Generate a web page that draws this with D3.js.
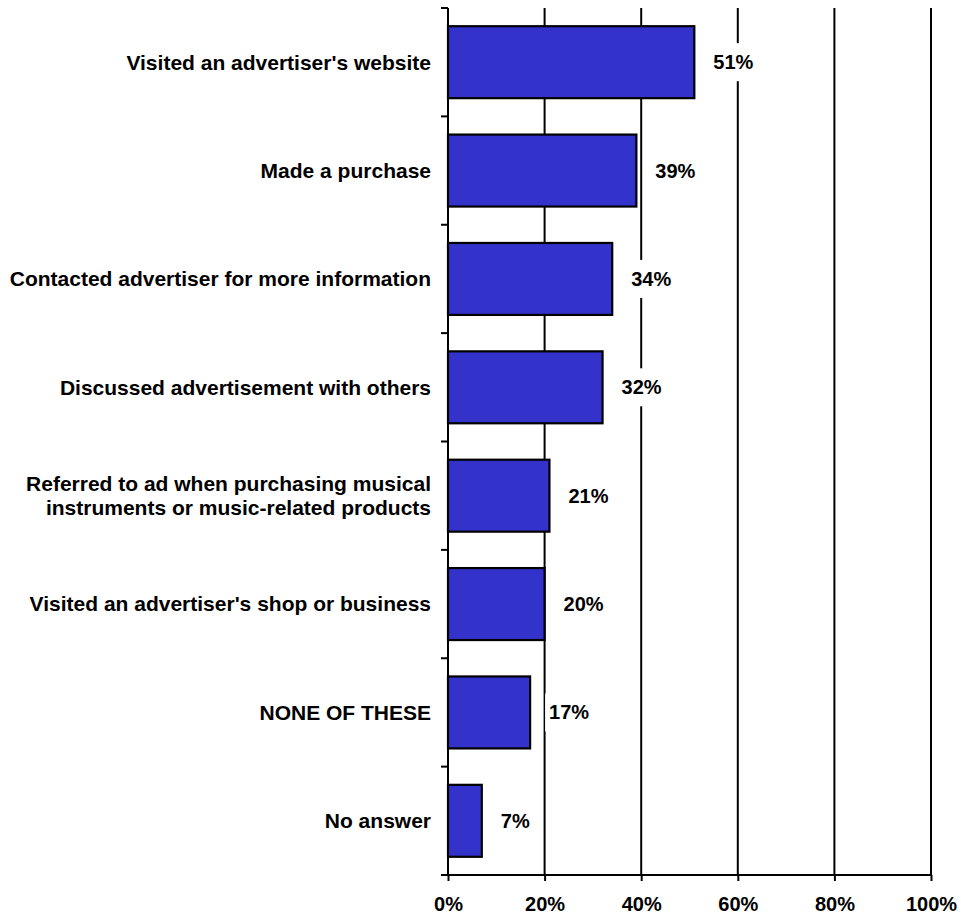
<!DOCTYPE html>
<html>
<head>
<meta charset="utf-8">
<script src="https://cdn.jsdelivr.net/npm/d3@7"></script>
<style>
  html, body { margin: 0; padding: 0; background: #fff; }
  svg { display: block; }
  text { font-family: "Liberation Sans", Arial, Helvetica, sans-serif; font-weight: bold; fill: #000; }
</style>
</head>
<body>
<svg id="chart" width="961" height="918"></svg>
<script>
// Survey responses: actions taken after seeing an advertisement
const categories = [
  "Visited an advertiser's website",
  "Made a purchase",
  "Contacted advertiser for more information",
  "Discussed advertisement with others",
  "Referred to ad when purchasing musical\ninstruments or music-related products",
  "Visited an advertiser's shop or business",
  "NONE OF THESE",
  "No answer"
];
const values = [51, 39, 34, 32, 21, 20, 17, 7];
const xTicks = [0, 20, 40, 60, 80, 100];

const svg = d3.select("#chart");
const margin = { top: 8, right: 30, bottom: 43, left: 448 };
const width = 961 - margin.left - margin.right;
const height = 918 - margin.top - margin.bottom;

const g = svg.append("g").attr("transform", `translate(${margin.left},${margin.top})`);

const x = d3.scaleLinear().domain([0, 100]).range([0, width]);
const y = d3.scaleBand().domain(categories).range([0, height]).paddingInner(0.336).paddingOuter(0.168);

// Vertical gridlines
g.append("g").selectAll("line")
  .data(xTicks.filter(t => t > 0))
  .join("line")
  .attr("x1", d => x(d)).attr("x2", d => x(d))
  .attr("y1", 0).attr("y2", height)
  .attr("stroke", "#000").attr("stroke-width", 2);

// Bars
g.append("g").selectAll("rect")
  .data(categories)
  .join("rect")
  .attr("x", 0)
  .attr("y", d => y(d))
  .attr("width", (d, i) => x(values[i]))
  .attr("height", y.bandwidth())
  .attr("fill", "#3333CC")
  .attr("stroke", "#000")
  .attr("stroke-width", 2.2);

// Left axis with ticks on band boundaries
const boundaries = d3.range(categories.length + 1).map(i => i * height / categories.length);
g.append("line")
  .attr("x1", 0).attr("x2", 0).attr("y1", 0).attr("y2", height)
  .attr("stroke", "#000").attr("stroke-width", 2);
g.append("g").selectAll("line")
  .data(boundaries)
  .join("line")
  .attr("x1", -7).attr("x2", 0)
  .attr("y1", d => d).attr("y2", d => d)
  .attr("stroke", "#000").attr("stroke-width", 2);

// Bottom axis
const xAxis = d3.axisBottom(x)
  .tickValues(xTicks)
  .tickSize(6)
  .tickPadding(16)
  .tickFormat(d => d + "%");
const ax = g.append("g").attr("transform", `translate(0,${height})`).call(xAxis);
ax.select(".domain").attr("stroke", "#000").attr("stroke-width", 2).attr("d", `M-7,0H${width}`);
ax.selectAll(".tick line").attr("stroke", "#000").attr("stroke-width", 2);
ax.selectAll(".tick text")
  .attr("font-size", 20)
  .style("font-family", "'Liberation Sans', Arial, sans-serif")
  .style("font-weight", "bold")
  .attr("fill", "#000");

// Category labels
const catLabels = g.append("g").selectAll("text")
  .data(categories)
  .join("text")
  .attr("text-anchor", "end")
  .attr("font-size", 21)
  .attr("x", -17)
  .attr("y", d => y(d) + y.bandwidth() / 2);
catLabels.each(function(d) {
  const lines = d.split("\n");
  const t = d3.select(this);
  const lh = 24;
  lines.forEach((ln, k) => {
    t.append("tspan")
      .attr("x", -17)
      .attr("y", y(d) + y.bandwidth() / 2 + (k - (lines.length - 1) / 2) * lh)
      .attr("dy", "0.35em")
      .text(ln);
  });
});

// Value labels with white backing that breaks the gridlines
const vl = g.append("g").selectAll("g")
  .data(categories)
  .join("g")
  .attr("transform", (d, i) => `translate(${x(values[i]) + 19},${y(d) + y.bandwidth() / 2})`);
vl.append("text")
  .attr("font-size", 20)
  .attr("dy", "0.35em")
  .text((d, i) => values[i] + "%");
vl.each(function() {
  const gg = d3.select(this);
  const bb = gg.select("text").node().getBBox();
  gg.insert("rect", "text")
    .attr("x", bb.x - 4).attr("y", -19)
    .attr("width", bb.width + 8).attr("height", 38)
    .attr("fill", "#fff");
});
</script>
</body>
</html>
